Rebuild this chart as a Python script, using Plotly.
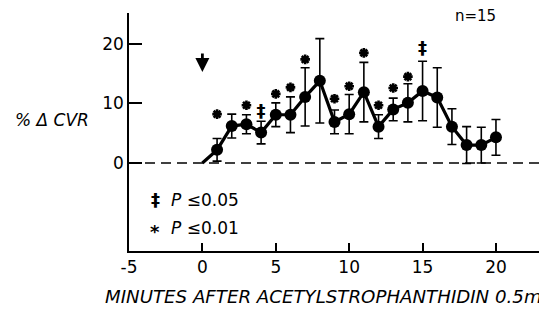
import plotly.graph_objects as go

# ---- data ----
minutes = [1, 2, 3, 4, 5, 6, 7, 8, 9, 10, 11, 12, 13, 14, 15, 16, 17, 18, 19, 20]
pct_cvr = [2.2, 6.2, 6.5, 5.1, 8.1, 8.1, 11.1, 13.8, 6.9, 8.2, 11.9, 6.1, 9.0, 10.1, 12.1, 11.0, 6.1, 3.0, 3.0, 4.3]
sem = [1.9, 2.0, 1.6, 1.9, 2.0, 3.0, 4.9, 7.1, 2.0, 3.3, 5.0, 2.0, 1.9, 3.2, 5.0, 5.0, 3.0, 3.1, 3.0, 3.0]

star_x = [1, 3, 5, 6, 7, 9, 10, 11, 12, 13, 14]
star_y = [8.2, 9.7, 11.6, 12.7, 17.4, 10.8, 12.9, 18.5, 9.7, 12.6, 14.5]
dagger_x = [4, 15]
dagger_y = [8.4, 19.1]

x_ticks = [-5, 0, 5, 10, 15, 20]
y_ticks = [0, 10, 20]
start_x, start_y = 0, 0
arrow_x, arrow_y = 0, 15.3

FONT = "DejaVu Sans, Verdana, sans-serif"

fig = go.Figure()

# zero reference line (dashed)
fig.add_hline(y=0, line=dict(color="black", width=1.5, dash="10px,6px"))

# connecting line from injection point through means
fig.add_trace(go.Scatter(
    x=[start_x] + minutes, y=[start_y] + pct_cvr, mode="lines",
    line=dict(color="black", width=3.2), hoverinfo="skip", showlegend=False))

# means with error bars
fig.add_trace(go.Scatter(
    x=minutes, y=pct_cvr, mode="markers",
    marker=dict(color="black", size=12),
    error_y=dict(type="data", array=sem, visible=True, color="black",
                 thickness=1.6, width=4.5),
    showlegend=False))

# P <= 0.01 asterisks
fig.add_trace(go.Scatter(
    x=star_x, y=star_y, mode="markers",
    marker=dict(symbol="asterisk-open", size=8, color="black",
                line=dict(color="black", width=2.6)),
    showlegend=False, hoverinfo="skip"))

# P <= 0.05 double daggers
fig.add_trace(go.Scatter(
    x=dagger_x, y=dagger_y, mode="text", text=["<b>‡</b>"] * len(dagger_x),
    textfont=dict(family=FONT, size=18, color="black"),
    textposition="middle center", showlegend=False, hoverinfo="skip"))

# arrow marking injection
fig.add_annotation(x=arrow_x, y=arrow_y, ax=0, ay=-20, showarrow=True,
                   arrowhead=2, arrowsize=1.0, arrowwidth=2.8, arrowcolor="black",
                   text="")

# n = 15
fig.add_annotation(x=18.6, y=24.7, text="n=15", showarrow=False,
                   font=dict(family=FONT, size=15, color="black"))

# significance key
fig.add_annotation(x=-3.2, y=-6.2, text="<b>‡</b>", showarrow=False,
                   font=dict(family=FONT, size=18, color="black"))
fig.add_annotation(x=-2.3, y=-6.2, xanchor="left", text="<i>P</i> ≤0.05", showarrow=False,
                   font=dict(family=FONT, size=17, color="black"))
fig.add_annotation(x=-3.2, y=-11.0, text="<b>*</b>", showarrow=False, yshift=-3,
                   font=dict(family=FONT, size=18, color="black"))
fig.add_annotation(x=-2.3, y=-10.9, xanchor="left", text="<i>P</i> ≤0.01", showarrow=False,
                   font=dict(family=FONT, size=17, color="black"))

# y title
fig.add_annotation(xref="paper", yref="paper", x=-0.187, y=0.55, xanchor="center",
                   text="<i>% Δ CVR</i>", showarrow=False,
                   font=dict(family=FONT, size=17, color="black"))

# x title (runs off right edge as in reference)
fig.add_annotation(xref="paper", yref="paper", x=-0.063, y=-0.193, xanchor="left", yanchor="middle",
                   text="<i>MINUTES AFTER ACETYLSTROPHANTHIDIN 0.5mg</i>", showarrow=False,
                   font=dict(family=FONT, size=18.2, color="black"))

# page body has an 8px margin, so the figure is sized/offset to fill the 547x310 window
fig.update_layout(
    width=539, height=302,
    margin=dict(l=121, r=7, t=5, b=59),
    plot_bgcolor="white", paper_bgcolor="white",
    font=dict(family=FONT, size=17, color="black"),
    xaxis=dict(range=[-5, 23.0], tickvals=x_ticks, ticktext=[str(v) for v in x_ticks],
               ticks="inside", ticklen=8, tickwidth=1.5, tickcolor="black",
               showline=True, linecolor="black", linewidth=1.5, showgrid=False,
               zeroline=False, tickfont=dict(size=17)),
    yaxis=dict(range=[-14.8, 25.2], tickvals=y_ticks, ticktext=[str(v) for v in y_ticks],
               ticks="inside", ticklen=13, tickwidth=1.5, tickcolor="black",
               showline=True, linecolor="black", linewidth=1.5, showgrid=False,
               zeroline=False, tickfont=dict(size=17)),
)

fig.write_html("out.html")
